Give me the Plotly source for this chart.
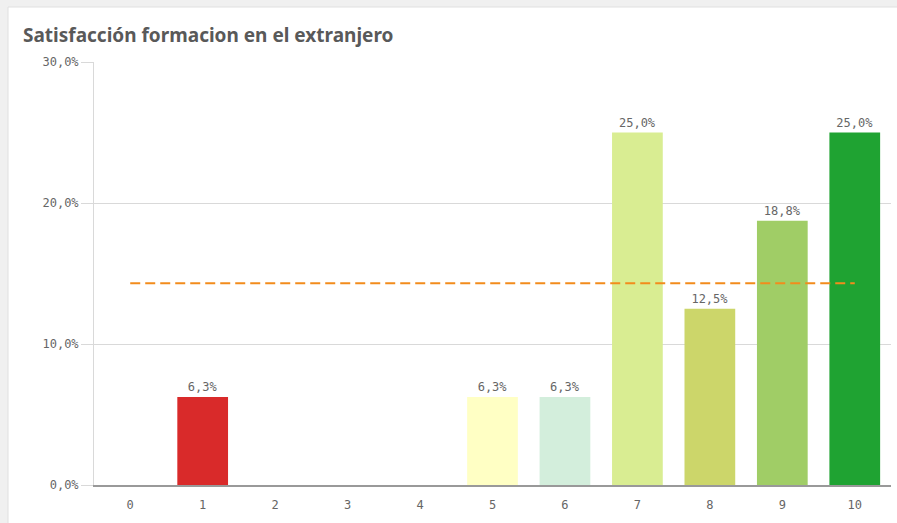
import plotly.graph_objects as go

categories = ["0", "1", "2", "3", "4", "5", "6", "7", "8", "9", "10"]
values = [0, 6.25, 0, 0, 0, 6.25, 6.25, 25.0, 12.5, 18.75, 25.0]
bar_colors = ["#d92a2a", "#d92a2a", "#d92a2a", "#d92a2a", "#d92a2a",
              "#ffffc4", "#d3eedc", "#d9ed92", "#ccd66a", "#a0cd66", "#1fa332"]
average_value = 14.3
y_tickvals = [0, 10, 20, 30]
y_ticktext = ["0,0%", "10,0%", "20,0%", "30,0%"]

labels = [("%.1f%%" % (v + 1e-9)).replace(".", ",") if v > 0 else "" for v in values]

W, H = 897, 523
L, R, T, B = 94, 6, 62, 38
pw, ph = W - L - R, H - T - B

def px(x):
    return (x - L) / pw

def py(y):
    return (H - B - y) / ph

fig = go.Figure()
fig.add_trace(go.Bar(
    x=categories, y=values, marker=dict(color=bar_colors, line=dict(width=0)),
    text=labels, textposition="outside", cliponaxis=False,
    textfont=dict(family="DejaVu Sans Mono", size=12, color="#666666"),
    hoverinfo="skip", showlegend=False,
))
fig.add_trace(go.Scatter(
    x=categories, y=[average_value] * len(categories), mode="lines",
    line=dict(color="#f28c1c", width=2, dash="10px,5px"),
    hoverinfo="skip", showlegend=False,
))

shapes = [
    dict(type="rect", xref="paper", yref="paper", x0=px(0), x1=px(W), y0=py(H), y1=py(0),
         fillcolor="#f0f0f0", line=dict(width=0), layer="below"),
    dict(type="rect", xref="paper", yref="paper", x0=px(8), x1=px(W + 10), y0=py(H + 10), y1=py(7),
         fillcolor="#ffffff", line=dict(color="#e0e0e0", width=1), layer="below"),
]

fig.update_layout(
    width=W, height=H,
    margin=dict(l=L, r=R, t=T, b=B),
    paper_bgcolor="#ffffff", plot_bgcolor="rgba(0,0,0,0)",
    bargap=0.3,
    shapes=shapes,
    annotations=[dict(
        text="<b>Satisfacción formacion en el extranjero</b>", xref="paper", yref="paper",
        x=px(21), y=py(35), xanchor="left", yanchor="middle", showarrow=False,
        font=dict(family="Noto Sans, sans-serif", size=19, color="#595959"),
    )],
    xaxis=dict(
        type="category", showgrid=False, showline=True, linecolor="#999999", linewidth=1.5,
        ticks="", tickfont=dict(family="DejaVu Sans Mono", size=12, color="#666666"),
        ticklabelstandoff=8, zeroline=False,
    ),
    yaxis=dict(
        range=[0, 30], tickvals=y_tickvals, ticktext=y_ticktext,
        showgrid=True, gridcolor="#d9d9d9", gridwidth=1,
        showline=True, linecolor="#d9d9d9", linewidth=1,
        ticks="outside", ticklen=12, tickcolor="#d9d9d9",
        tickfont=dict(family="DejaVu Sans Mono", size=12, color="#666666"),
        zeroline=False,
    ),
)

fig.write_html("out.html", config={"displayModeBar": False},
               post_script="document.body.style.margin='0';")
